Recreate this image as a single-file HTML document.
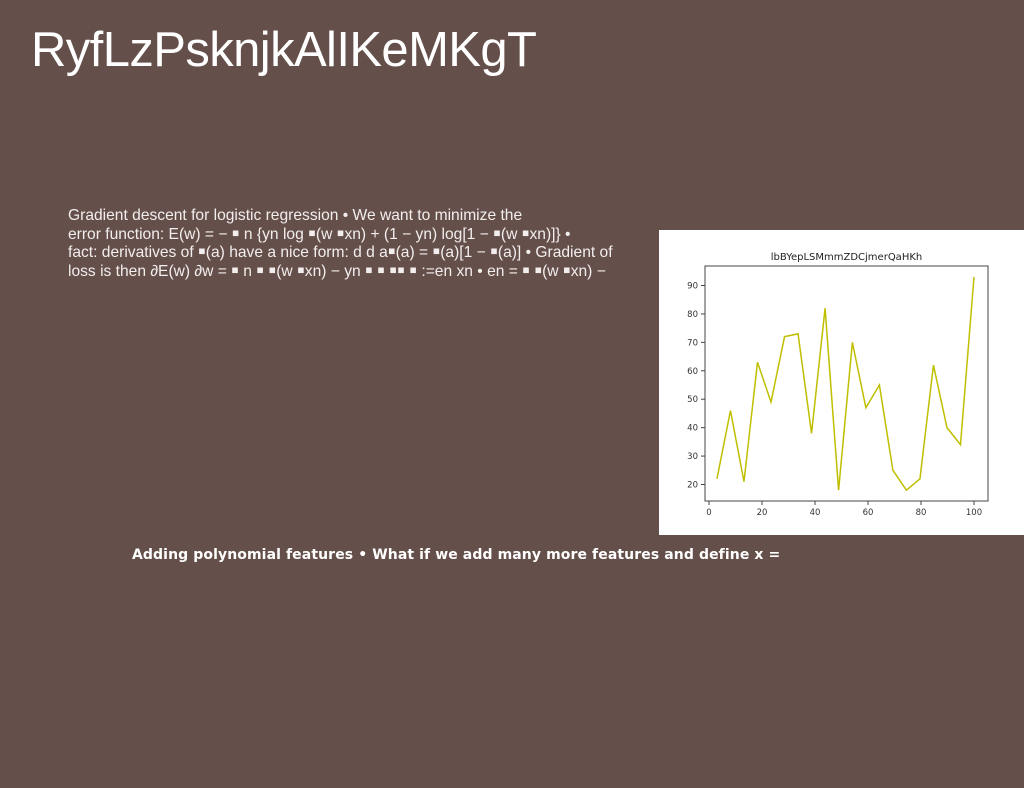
<!DOCTYPE html>
<html><head><meta charset="utf-8"><style>
body{margin:0;width:1024px;height:788px;background:#654f4a;position:relative;overflow:hidden;font-family:"Liberation Sans","DejaVu Sans",sans-serif}
#title{position:absolute;left:31px;top:22px;font-size:49px;color:#fff;letter-spacing:-0.6px}
#body{position:absolute;left:68px;top:207px;font-size:15.6px;line-height:18.5px;color:#f2eeee;font-family:"Liberation Sans",sans-serif;white-space:nowrap}
#bold{position:absolute;left:132px;top:547px;font-size:14px;font-weight:bold;color:#fff;font-family:"DejaVu Sans","Liberation Sans",sans-serif;letter-spacing:0.1px}
#chart{position:absolute;left:659px;top:230px;width:365px;height:305px;background:#fff}
</style></head><body>
<div id="title">RyfLzPsknjkAlIKeMKgT</div>
<div id="body">Gradient descent for logistic regression • We want to minimize the<br>error function: E(w) = − ￭ n {yn log ￭(w ￭xn) + (1 − yn) log[1 − ￭(w ￭xn)]} •<br>fact: derivatives of ￭(a) have a nice form: d d a￭(a) = ￭(a)[1 − ￭(a)] • Gradient of<br>loss is then ∂E(w) ∂w = ￭ n ￭ ￭(w ￭xn) − yn ￭ ￭ ￭￭ ￭ :=en xn • en = ￭ ￭(w ￭xn) −</div>
<div id="bold">Adding polynomial features • What if we add many more features and define x =</div>
<div id="chart">
<svg id="svg" width="365" height="305" font-family="DejaVu Sans, Liberation Sans, sans-serif"></svg>
</div>
<script>
const xs=[3,8.1,13.2,18.3,23.4,28.5,33.6,38.7,43.8,48.9,54.1,59.2,64.3,69.4,74.5,79.6,84.7,89.8,94.9,100];
const ys=[22,46,21,63,49,72,73,38,82,18,70,47,55,25,18,22,62,40,34,93];
const xTicks=[0,20,40,60,80,100];
const yTicks=[20,30,40,50,60,70,80,90];
const titleText="lbBYepLSMmmZDCjmerQaHKh";
const svg=document.getElementById('svg');
const NS='http://www.w3.org/2000/svg';
const L=46,R=329,T=36,B=271;
const sx=v=>50+(v/100)*265;
const sy=v=>254.5-(v-20)*(199/70);
function mk(t,a){const e=document.createElementNS(NS,t);for(const k in a)e.setAttribute(k,a[k]);svg.appendChild(e);return e;}
const fr=mk('rect',{x:L,y:T,width:R-L,height:B-T,fill:'none',stroke:'#444','stroke-width':1});


const tt=mk('text',{x:(L+R)/2,y:30,'text-anchor':'middle','font-size':10,fill:'#222'});tt.textContent=titleText;


xTicks.forEach(v=>{const x=sx(v);mk('line',{x1:x,x2:x,y1:B,y2:B+4,stroke:'#444'});
const t=mk('text',{x:x,y:B+14,'text-anchor':'middle','font-size':8.5,fill:'#333'});t.textContent=v;

});
yTicks.forEach(v=>{const y=sy(v);mk('line',{x1:L-4,x2:L,y1:y,y2:y,stroke:'#444'});
const t=mk('text',{x:L-7,y:y+3,'text-anchor':'end','font-size':8.5,fill:'#333'});t.textContent=v;

});
const p=mk('polyline',{points:xs.map((x,i)=>sx(x)+','+sy(ys[i])).join(' '),fill:'none',stroke:'#bfbf00','stroke-width':1.5});


</script>
</body></html>
